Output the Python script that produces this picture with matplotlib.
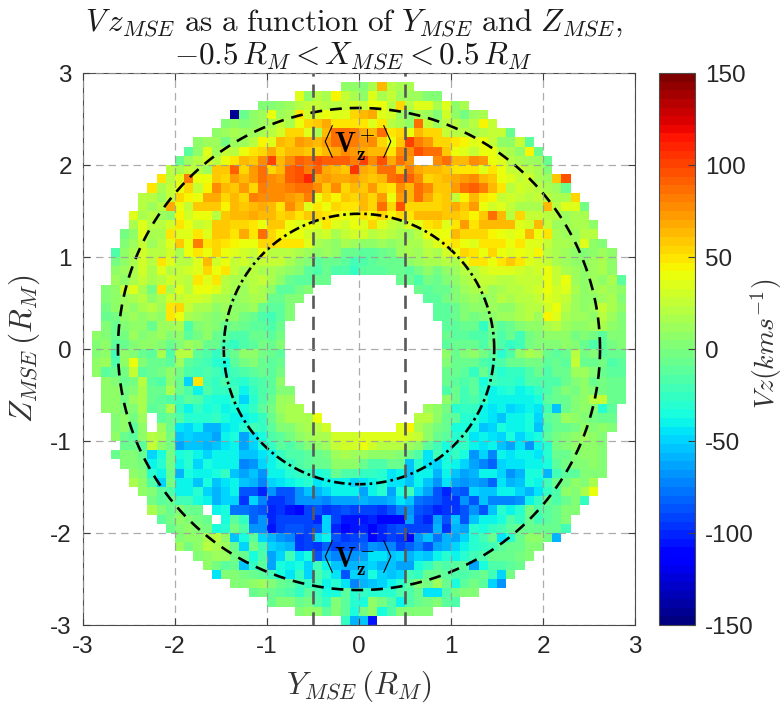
import numpy as np
import matplotlib
matplotlib.use("Agg")
import matplotlib.pyplot as plt

plt.rcParams["font.family"] = ["Liberation Sans", "DejaVu Sans"]
plt.rcParams["mathtext.fontset"] = "cm"
plt.rcParams["axes.unicode_minus"] = False

# Vz (km/s) per 0.1 R_M bin, row 1 is just under Z = 3
n = np.nan

row_01 = [5, 5, 3, 15, 65, 20, 18, 15]
row_02 = [37, 8, 22, 15, 45, 28, 18, 5, 37, 15, 25, 10, 12, 10, 0, 0]
row_03 = [3, 3, 8, 12, 20, 28, 28, 22, 20, 25, 30, 25, 40, 38, 22, 55, 22, 37, 33, 18, 37, 5, 15]
row_04 = [-145, -8, 5, 10, 38, 12, 15, 50, 30, 35, 38, 33, 37, 55, 65, 70, 37, 30, 10, 5, 15, 10, 0, 30, 8, -2, 12, 18]
row_05 = [3, 5, 3, 8, 12, 18, 28, 15, 40, 55, 60, 70, 48, 48, 50, 50, 37, 48, 22, 15, 8, 85, 25, 10, 22, 20, 10, 20, 45, 25]
row_06 = [8, 12, 18, 10, 12, 18, 22, 30, 55, 55, 35, 15, 62, 85, 85, 80, 70, 62, 88, 50, 55, 42, 62, 55, 52, 25, 22, 20, 15, 22, 25, 25, -8]
row_07 = [8, 12, 10, -3, 10, 10, 22, 45, 37, 62, 60, 72, 70, 65, 72, 85, 85, 80, 72, 75, 55, 38, 58, 100, 82, 72, 52, 52, 50, 45, 35, 40, 28, 8, 5, 25, -12]
row_08 = [-10, 8, 37, 12, 25, 22, 40, 48, 55, 68, 55, 62, 62, 58, 55, 62, 70, 75, 72, 70, 62, 62, 50, 75, 78, 98, 85, 85, 60, 40, 35, 28, 42, 40, 22, 15, 8, 45, -8]
row_09 = [-5, 12, 22, 30, 20, 40, 50, 65, 58, 78, 100, 62, 78, 90, 88, 95, 92, 92, 92, 80, 100, 75, 95, 70, 85, 72, n, n, 78, 88, 65, 62, 78, 72, 38, 35, 20, 15, 12, 10, -5]
row_10 = [22, 15, 25, 22, 12, 60, 58, 90, 55, 72, 85, 55, 65, 90, 95, 82, 90, 68, 62, 58, 105, 68, 62, 85, 85, 58, 80, 70, 62, 62, 60, 50, 48, 48, 37, 48, 38, 28, 25, 20, 18, 0]
row_11 = [47, 22, 37, 80, 38, 38, 58, 55, 72, 65, 72, 88, 75, 72, 92, 98, 108, 70, 72, 70, 70, 72, 62, 58, 65, 88, 92, 90, 78, 55, 60, 62, 68, 72, 75, 62, 60, 40, 35, 28, 30, 15, 12, 58, 95]
row_12 = [50, 18, 25, 38, 52, 25, 45, 78, 65, 60, 72, 55, 80, 78, 78, 80, 88, 85, 78, 60, 78, 55, 65, 58, 72, 55, 48, 75, 65, 88, 75, 60, 60, 72, 88, 92, 82, 65, 50, 20, 30, 28, 22, 15, 12, -8]
row_13 = [20, 22, 12, 28, 52, 45, 38, 68, 68, 55, 65, 55, 80, 75, 78, 78, 72, 68, 82, 40, 55, 45, 60, 55, 62, 52, 72, 42, 72, 62, 85, 68, 55, 58, 28, 45, 62, 48, 45, 25, 30, 25, 20, 28, 22, 18, 15, 55]
row_14 = [22, 12, 22, 68, 38, 25, 60, 60, 60, 45, 65, 58, 62, 68, 62, 50, 78, 62, 37, 48, 42, 55, 50, 50, 62, 52, 85, 52, 98, 52, 55, 55, 55, 58, 68, 58, 72, 38, 30, 35, 25, 18, 15, 18, 62, 22, 35, 37, -2]
row_15 = [35, 18, 20, 12, 5, 45, 30, 42, 38, 22, 58, 62, 65, 68, 65, 65, 55, 60, 48, 58, 55, 50, 45, 42, 42, 48, 45, 55, 45, 55, 50, 62, 65, 62, 58, 60, 52, 45, 60, 85, 62, 22, 52, 28, 25, 22, 22, 12, 18, 18]
row_16 = [15, 37, 20, 22, 30, 48, 38, 28, 30, 58, 58, 52, 52, 48, 42, 58, 58, 40, 35, 38, 35, 48, 35, 30, 38, 35, 55, 37, 25, 22, 35, 37, 48, 55, 35, 48, 72, 50, 62, 62, 62, 62, 35, 30, 65, 25, 12, 12, 15, 18, 5]
row_17 = [-2, 8, 35, 15, 15, 50, 37, 37, 48, 37, 58, 58, 48, 68, 48, 88, 55, 45, 38, 38, 30, 25, 30, 15, 25, 30, 30, 20, 25, 20, 15, 12, 20, 38, 38, 40, 62, 55, 55, 55, 45, 38, 37, 38, 62, 38, 50, 15, 12, 12, 20, 22]
row_18 = [0, 12, 25, 12, 22, 37, 58, 42, 80, 48, 55, 48, 45, 40, 38, 55, 52, 50, 48, 48, 35, 15, 12, 8, 15, 10, 5, 5, 10, 5, 10, 15, 15, 28, 35, 45, 48, 42, 37, 48, 50, 48, 40, 48, 35, 37, 25, 18, 15, 12, 35, 8, 0]
row_19 = [-15, 8, 15, 30, 22, 22, 30, 18, 38, 48, 42, 55, 38, 37, 30, 28, 38, 22, 22, 22, 15, 12, 8, 12, 5, -5, -5, -10, -10, -8, -3, 12, 18, 12, 22, 18, 30, 40, 55, 48, 40, 55, 38, 35, 40, 35, 45, 22, 15, 12, 5, 2, 8, 10, 5]
row_20 = [-3, 8, 15, 30, 20, 48, 37, 20, 22, 35, 62, 30, 38, 25, 32, 22, 25, 25, 25, 15, 5, 0, -10, -8, -5, -12, -20, -15, -12, -8, -8, -8, 8, 12, 15, 15, 20, 18, 35, 48, 48, 42, 48, 58, 48, 35, 30, 25, 15, 12, 8, 5, 10, 15, 5]
row_21 = [5, 10, 15, 30, 15, 37, 20, 25, 30, 35, 55, 38, 50, 25, 15, 20, 18, 18, 12, 5, 0, -10, -15, -8, -15, -15, -25, -12, -12, -10, -5, -5, -12, -2, 5, -3, 5, 12, 20, 22, 30, 35, 35, 37, 30, 28, 30, 40, 28, 15, 10, 8, 12, 18, 5]
row_22 = [12, 8, 18, 25, 15, 22, 30, 28, 22, 50, 35, 48, 22, 15, 18, 20, 25, 15, 5, -5, -12, -12, -5, -5] + [n] * 7 + [-5, -8, -15, -2, -8, 3, 8, 15, 22, 25, 25, 22, 20, 25, 28, 25, 42, 25, 38, 10, 5, 12, 8, 15, -10]
row_23 = [3, 5, 25, 37, 15, -3, 50, 15, 35, 20, 42, 38, 37, 22, 18, 12, 22, 18, 5, -12, -10, -3, 0] + [n] * 11 + [-8, -10, -8, -5, 3, 12, 18, 20, 10, 15, 20, 20, 25, 30, 42, 32, 37, 15, 8, 12, 15, 10, 5]
row_24 = [3, 8, 10, 15, 20, 8, 15, 30, 25, 30, 32, 28, 15, 15, 5, 12, 18, 15, -5, -8, 0, 3] + [n] * 13 + [-10, -12, -3, 3, 8, 10, 5, 12, 22, 15, 22, 20, 25, 35, 30, 25, 12, 5, 8, 12, 15, 3]
row_25 = [-3, 5, 10, 8, 15, 22, 12, 48, 55, 28, 18, 15, 5, 12, 8, 5, 10, -8, -12, -10, 3] + [n] * 15 + [-12, -10, -5, 3, 8, 5, 12, 8, 5, 15, 22, 20, 30, 40, 22, 12, 8, 10, 28, 15, 5]
row_26 = [-5, -3, 5, 12, 8, 10, 5, 50, 42, 15, 10, 8, 3, 8, 5, -3, -5, -15, -20, -12, 0] + [n] * 15 + [-12, -12, -8, 0, -3, 3, 5, 12, 10, 15, 20, 12, 45, 35, 15, 12, 10, 5, 22, 10, 3]
row_27 = [0, -5, 3, 8, 5, -5, 10, 10, 15, -15, 3, 8, 0, -5, -3, -8, -12, -12, -15, -5] + [n] * 17 + [-10, -10, -8, -5, -25, -3, -12, -5, 3, 5, 5, 15, 22, 10, 5, 8, 10, 15, 8, 0]
row_28 = [5, 0, -8, -3, 10, 0, 8, 12, 3, 8, -12, -3, 5, -5, -10, -15, -15, -8, -5, -10, -3] + [n] * 17 + [-8, -10, -12, -15, -15, -8, -15, -8, -20, -3, 3, 8, 5, 5, -3, 3, -3, -12, 3, 3]
row_29 = [3, 5, -10, -5, 0, 5, 5, 3, -8, 0, 10, 5, -5, -8, -20, -25, -15, -10, -3, -5, 0] + [n] * 17 + [-12, -8, -8, -8, -15, -3, -15, -25, -22, -3, 0, 3, 3, 8, 0, -8, -15, -10, -3, 3]
row_30 = [3, 8, -20, 8, 3, -5, -12, 15, -15, 22, 22, -12, -15, -25, -15, -5, 5, 8, -3, -5, -10] + [n] * 17 + [5, -5, 3, 5, -3, -12, -30, -15, 5, 15, 12, -8, -10, -8, 20, -3, 0, -10, -8, -8]
row_31 = [5, 10, -15, 5, 38, 0, -8, -5, -10, 12, -12, -15, -20, -30, -35, -10, -3, 3, -8, -12, -5] + [n] * 17 + [0, -5, -8, -5, -15, -20, -15, -5, -5, -3, -3, -12, -8, -10, 25, -5, -5, -3, -15, -10]
row_32 = [5, -10, -8, -3, 25, -12, -8, -3, 8, -3, -15, -20, -15, -20, -30, -20, -15, -12, -8, -12, -3] + [n] * 17 + [-8, -5, -10, -28, -8, -20, -30, -25, -25, -15, -5, -15, -5, -8, 10, 12, 0, -5, -12, -12]
row_33 = [5, 3, -5, -3, 22, -10, -15, 8, -5, -50, 48, -22, -25, -15, -25, -32, -20, -15, -12, 5] + [n] * 17 + [-5, -12, -15, -12, -35, -20, -28, -25, -30, -18, -15, -15, -15, -5, 0, 5, -5, -3, -8, -8]
row_34 = [5, 8, -3, 3, 18, -5, -8, 15, -5, -15, -40, -15, -25, -25, -20, -38, -25, -15, -10, 3, 3] + [n] * 16 + [-15, -8, -20, -10, -32, -40, -35, -30, -38, -35, -25, -15, -8, 0, -3, 5, 3, -3, -5, -5]
row_35 = [8, 5, -3, 10, 15, -8, -12, -15, -22, -12, -15, -30, -35, -35, -25, -48, -32, -18, -8, 12, 12] + [n] * 16 + [5, -5, -22, -15, -28, -42, -42, -40, -38, -40, -35, -12, -8, -5, 0, 5, 22, 28, -8, -8]
row_36 = [5, 8, 0, 3, 18, -12, -5, 15, -25, -38, -28, -35, -30, -38, -35, -35, -25, -10, -3, 10, 15, 18] + [n] * 13 + [12, 5, -3, -30, -25, -25, -40, -45, -42, -50, -45, -40, -45, -20, -55, -5, 0, 5, 3, -30, -12]
row_37 = [0, 5, -3, 10, n, -12, -5, -15, -30, -32, -30, -28, -35, -38, -40, -35, -25, -5, 5, 15, 18, 18, 38] + [n] * 10 + [22, 22, 5, -5, -10, -30, -30, -42, -45, -55, -42, -40, -35, -48, -12, -5, 12, 8, 0, -3, -5, -5]
row_38 = [3, 5, -10, 8, n, 12, -8, -45, -50, -42, -58, -58, -45, -40, -30, -22, -25, -12, 3, 3, 12, 18, 22, 30] + [n] * 7 + [35, 45, 18, 8, -3, -8, -35, -35, -35, -55, -50, -35, -42, -38, -35, -55, -15, -5, -5, -3, 5, 3, 5, 3]
row_39 = [5, -5, -10, 5, 20, 18, -3, -55, -48, -52, -55, -62, -42, -35, -65, -45, -35, -18, -10, -3, 5, 12, 18, 15, 30, 32, 32, 33, 33, 33, 33, 33, 30, 28, 8, -8, -12, -30, -28, -45, -38, -45, -50, -35, -48, -42, -35, -12, -3, 3, 8, 10, 5, 3]
row_40 = [-8, -5, -10, 25, 8, -2, -62, -52, -55, -58, -55, -45, -40, -62, -48, -35, -28, -12, -15, -8, 0, 8, 10, 25, 30, 32, 42, 30, 22, 22, 22, 12, 5, -10, -22, -35, -32, -28, -42, -45, -42, -55, -62, -45, -68, -38, -30, -3, 3, 5, 5, 8, 3]
row_41 = [-5, 0, 3, -8, -50, -35, -3, -35, -30, -42, -48, -40, -38, -38, -55, -55, -45, -42, -25, -15, -15, -10, -5, -3, 12, 15, 12, 10, 8, 5, 5, 3, -8, -15, -45, -20, -35, -25, -35, -70, -50, -75, -42, -45, -38, -42, -45, -30, -5, -5, 3, 5, 5, 3]
row_42 = [0, 3, -3, -38, -30, -2, -42, -30, -50, -35, -38, -38, -38, -72, -68, -50, -38, -30, -25, -18, -12, -8, -5, 5, 5, 5, -5, -15, -15, -8, -8, -55, -32, -45, -48, -35, -40, -50, -65, -75, -80, -50, -45, -45, -40, -40, -35, -12, -3, 0, 3, 8, 0]
row_43 = [8, 0, -30, -38, -5, -58, -35, -40, -40, -35, -28, -55, -62, -55, -70, -42, -38, -30, -28, -25, -35, -30, -8, -18, -18, -25, -28, -32, -45, -42, -55, -38, -40, -60, -42, -55, -62, -60, -40, -42, -50, -68, -58, -35, -35, -60, -22, -12, -12, 3, 0, 3]
row_44 = [18, 5, -15, -50, -3, -38, -42, -55, -35, -52, -45, -40, -55, -60, -75, -50, -45, -42, -35, -30, -45, -42, -40, -40, -48, -45, -40, -30, -45, -45, -55, -42, -55, -70, -45, -62, -70, -65, -70, -80, -45, -60, -55, -35, -42, -20, -8, -3, 8, 0, 18]
row_45 = [8, 2, -12, -15, -42, -38, -30, -50, -60, -48, -42, -85, -85, -102, -70, -85, -88, -70, -55, -58, -50, -42, -40, -40, -65, -42, -30, -65, -35, -22, -50, -65, -88, -100, -80, -85, -48, -52, -52, -40, -40, -50, -60, -45, -28, -18, 8, 3, 15, 38]
row_46 = [-3, -12, -5, -20, -22, -35, -42, -58, -48, -50, -95, -50, -75, -95, -95, -85, -68, -70, -68, -72, -65, -62, -62, -60, -62, -65, -60, -45, -55, -78, -80, -85, -98, -95, -70, -85, -55, -75, -75, -72, -70, -40, -28, -5, -15, -8, 0, -25]
row_47 = [18, 3, -5, 0, -8, -5, n, -42, -35, -78, -78, -80, -85, -100, -98, -105, -108, -92, -85, -95, -92, -88, -90, -92, -92, -95, -85, -72, -70, -88, -92, -100, -98, -95, -85, -70, -85, -55, -30, -38, -30, -3, -15, -10, -5, 3, 0]
row_48 = [-10, -3, 5, 3, -3, -5, n, -35, -12, -25, -80, -70, -100, -92, -92, -92, -92, -100, -50, -90, -105, -105, -105, -100, -110, -108, -108, -65, -90, -100, -65, -85, -55, -85, -55, -40, -38, -35, -15, -28, -8, -22, -12, -5, 3]
row_49 = [-8, 3, 5, 3, -3, -35, -30, -3, -18, -70, -70, -105, -92, -88, -85, -90, -85, -50, -100, -108, -105, -100, -108, -102, -92, -85, -92, -92, -90, -58, -95, -60, -62, -30, -35, -28, -22, -12, -5, -5, -8, -5, -8, -20]
row_50 = [3, 8, 8, 15, 20, 5, -55, -35, -12, -50, -60, -68, -72, -95, -90, -50, -40, -85, -95, -90, -85, -112, -100, -92, -95, -108, -70, -55, -78, -60, -62, -50, -30, -22, -8, -45, -30, -5, 5, 8, -2, -60]
row_51 = [12, -3, 5, 22, 18, 12, -5, -50, -3, -22, -50, -55, -60, -95, -90, -95, -80, -90, -85, -85, -80, -70, -72, -72, -92, -80, -72, -85, -65, -58, -50, -42, -32, -28, -22, -12, -5, -5, 3, 3]
row_52 = [3, 5, 10, 12, -3, -5, -35, -15, -65, -50, -20, -45, -35, -85, -65, -75, -75, -70, -65, -45, -45, -55, -50, -60, -50, -52, -40, -32, -42, -30, -20, -15, -8, -5, -5, -3, 3]
row_53 = [5, -3, -12, -8, -55, -25, -10, -65, -35, -40, -35, -50, -20, -40, -55, -60, -60, -55, -50, -60, -55, -65, -65, -35, -28, -12, -15, -10, -10, -65, -35, -18, -15, -10, -5]
row_54 = [-45, 0, 3, -3, -8, -10, -22, -35, -45, -25, -50, -15, -30, -45, -85, -50, -55, -35, -50, -55, -50, -22, -25, -8, -5, -12, -15, -15, -12, -8, -20, -50, -3]
row_55 = [3, 3, 8, 10, 3, -8, -12, -20, -25, -22, -40, -30, -45, -75, -60, -55, -50, -40, -30, -10, 3, -3, 12, -8, -35, -12, -3, -10, -50, -70]
row_56 = [-5, -3, -8, -12, -15, -25, -12, -20, -35, -35, -10, -30, -28, -32, -32, -30, -15, -15, -5, -45, -45, -15, -3, 3, 3]
row_57 = [-5, 0, 3, -5, -3, -15, -25, 2, -12, -30, -35, 5, -3, -15, -40, -15, -8, -3, 0, -12, -15]
row_58 = [3, 5, 5, -12, 3, -10, -35, -3, 5, -33, -15, 3, 3, 3, 3]
row_59 = [-25, -60, -55, -105]

# first filled bin of each row, counted from Y = -3
row_start = [28, 23, 19, 16, 15, 14, 12, 11, 10, 9, 8, 7, 6, 6, 5, 5, 4, 4, 3, 3,
             3, 3, 2, 2, 2, 2, 2, 1, 1, 1, 1, 1, 2, 2, 2, 2, 3, 3, 3, 4,
             3, 4, 5, 5, 6, 7, 7, 8, 9, 10, 10, 12, 13, 14, 16, 18, 20, 23, 28]
vz_rows = [row_01, row_02, row_03, row_04, row_05, row_06, row_07, row_08, row_09, row_10,
           row_11, row_12, row_13, row_14, row_15, row_16, row_17, row_18, row_19, row_20,
           row_21, row_22, row_23, row_24, row_25, row_26, row_27, row_28, row_29, row_30,
           row_31, row_32, row_33, row_34, row_35, row_36, row_37, row_38, row_39, row_40,
           row_41, row_42, row_43, row_44, row_45, row_46, row_47, row_48, row_49, row_50,
           row_51, row_52, row_53, row_54, row_55, row_56, row_57, row_58, row_59]

ticks = [-3, -2, -1, 0, 1, 2, 3]
cbar_ticks = [-150, -100, -50, 0, 50, 100, 150]
r_outer = 2.62
r_inner = 1.47

grid = np.full((60, 60), np.nan)
for i, (start, vals) in enumerate(zip(row_start, vz_rows)):
    grid[58 - i, start:start + len(vals)] = vals

edges = np.linspace(-3, 3, 61)

fig = plt.figure(figsize=(7.82, 7.06), dpi=100)
ax = fig.add_axes([83 / 782, 1 - 625 / 706, 552 / 782, 552 / 706])
mesh = ax.pcolormesh(edges, edges, grid, cmap=plt.get_cmap("jet", 64), vmin=-150, vmax=150)
ax.set_xlim(-3, 3)
ax.set_ylim(-3, 3)
ax.set_xticks(ticks)
ax.set_yticks(ticks)
ax.tick_params(direction="in", length=5, width=0.8, top=True, right=True, color="0.25",
               labelcolor="0.15", labelsize=17.5, pad=8)
ax.grid(True, ls=(0, (6, 4)), color="0.6", lw=0.9, alpha=0.8)
ax.set_axisbelow(False)
for s in ax.spines.values():
    s.set_color("0.3")

theta = np.linspace(0, 2 * np.pi, 400)
ax.plot(r_outer * np.cos(theta), r_outer * np.sin(theta), color="k", lw=1.9, ls=(0, (4.5, 3)))
ax.plot(r_inner * np.cos(theta), r_inner * np.sin(theta), color="k", lw=1.9, ls=(0, (4, 1.5, 1, 1.5)))
ax.axvline(-0.5, color="0.35", lw=1.9, ls=(0, (5, 3)))
ax.axvline(0.5, color="0.35", lw=1.9, ls=(0, (5, 3)))

ax.text(-0.03, 2.23, r"$\langle\mathbf{V_z^+}\rangle$", fontsize=20, ha="center", va="center")
ax.text(-0.03, -2.28, r"$\langle\mathbf{V_z^-}\rangle$", fontsize=20, ha="center", va="center")

ax.set_xlabel(r"$Y_{MSE}\,(R_M)$", fontsize=22.5, color="0.2")
ax.xaxis.set_label_coords(0.5, -0.078)
ax.set_ylabel(r"$Z_{MSE}\,(R_M)$", fontsize=22.5, color="0.2")
ax.yaxis.set_label_coords(-0.075, 0.5)
fig.text(354 / 782, 1 - 23 / 706,
         r"$V\,z_{MSE}\ \mathrm{as\ a\ function\ of}\ Y_{MSE}\ \mathrm{and}\ Z_{MSE},$",
         fontsize=22.5, ha="center", va="center", color="0.1")
fig.text(353 / 782, 1 - 56 / 706, r"$-0.5\,R_M < X_{MSE} < 0.5\,R_M$",
         fontsize=22.5, ha="center", va="center", color="0.1")

cax = fig.add_axes([659 / 782, 1 - 625 / 706, 36 / 782, 552 / 706])
cb = fig.colorbar(mesh, cax=cax)
cb.set_ticks(cbar_ticks)
cb.ax.tick_params(direction="in", length=5, width=0.8, color="0.25", labelcolor="0.15",
                  labelsize=17.5, pad=7)
cb.outline.set_edgecolor("0.3")
cb.set_label(r"$Vz(kms^{-1})$", fontsize=20, color="0.2")
cb.ax.yaxis.set_label_coords(2.47, 0.51)

fig.savefig("out.png", dpi=100)
